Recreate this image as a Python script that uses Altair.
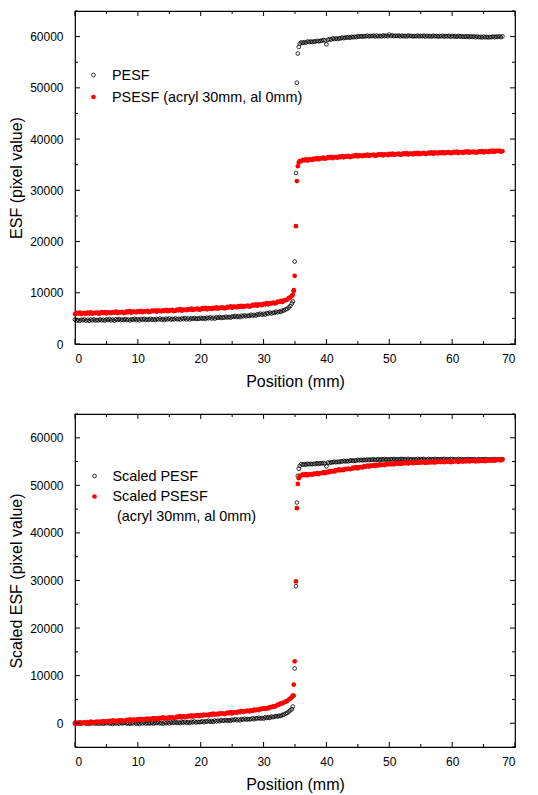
import altair as alt
import pandas as pd

FONT = "Liberation Sans"

# ---------------- sampling grid (mm): detector samples every 0.25 mm ----------------
PITCH = 0.25
LOW_START, HIGH_START = 0.0, 36.0
edge_pos = [34.65, 34.8, 34.95, 35.15, 35.3, 35.45, 35.6, 35.75]

# ---------------- top panel: PESF (black open circles) ----------------
pesf_low = [4760, 4580, 4685, 4530, 4740, 4640, 4805, 4570, 4720, 4520, 4765, 4640, 4800, 4590, 4695, 4630,
            4800, 4620, 4725, 4570, 4780, 4685, 4850, 4610, 4765, 4570, 4810, 4685, 4850, 4645, 4745, 4680,
            4855, 4680, 4780, 4625, 4840, 4745, 4905, 4670, 4825, 4630, 4870, 4745, 4910, 4705, 4805, 4740,
            4915, 4740, 4840, 4685, 4900, 4805, 4970, 4735, 4890, 4695, 4940, 4815, 4980, 4775, 4880, 4815,
            4990, 4815, 4920, 4770, 4985, 4890, 5060, 4825, 4980, 4790, 5035, 4910, 5080, 4880, 4990, 4930,
            5110, 4940, 5050, 4900, 5120, 5030, 5205, 4975, 5140, 4955, 5210, 5095, 5270, 5080, 5195, 5140,
            5330, 5170, 5290, 5150, 5380, 5300, 5480, 5260, 5430, 5250, 5515, 5405, 5590, 5405, 5535, 5490,
            5690, 5540, 5675, 5545, 5790, 5725, 5920, 5715, 5900, 5740, 6015, 5920, 6120, 5960, 6110, 6090,
            6310, 6190, 6355, 6260, 6530, 6555, 6760, 6850, 7140, 7400, 7900]
pesf_edge = [8300, 10300, 16100, 33400, 51000, 56700, 58000, 58600]
pesf_high = [58860, 58790, 58895, 58830, 59040, 58945, 59040, 58955, 59060, 59035, 59180, 59065, 59180, 59190, 59345, 59250,
             58500, 59390, 59495, 59430, 59640, 59545, 59640, 59555, 59660, 59650, 59805, 59700, 59830, 59805, 59920, 59785,
             59960, 59875, 59970, 59895, 60090, 59995, 60090, 60005, 60110, 60060, 60180, 60040, 60140, 60090, 60180, 60020,
             60180, 60070, 60140, 60040, 60220, 60100, 60180, 60070, 60400, 60110, 60230, 60080, 60170, 60120, 60200, 60040,
             60190, 60080, 60140, 60040, 60210, 60090, 60160, 60040, 60120, 60070, 60190, 60050, 60130, 60080, 60170, 60010,
             60160, 60050, 60120, 60020, 60180, 60060, 60130, 60020, 60100, 60050, 60160, 60020, 60110, 60060, 60150, 59980,
             60130, 60015, 60080, 59975, 60140, 60015, 60080, 59960, 60030, 59970, 60080, 59930, 60020, 59960, 60045, 59880,
             60020, 59895, 59950, 59835, 59990, 59870, 59945, 59840, 59930, 59890, 60020, 59890, 59990, 59950, 60050, 59900,
             60060]

# ---------------- top panel: PSESF (red filled dots) ----------------
psesf_low = [5860, 6080, 5935, 6125, 5840, 6050, 6010, 5895, 6115, 5970, 6170, 5920, 6085, 6045, 6150, 5920,
             5990, 6205, 6065, 6250, 5970, 6180, 6140, 6025, 6245, 6105, 6305, 6055, 6220, 6180, 6290, 6060,
             6130, 6350, 6210, 6400, 6120, 6330, 6290, 6180, 6400, 6260, 6465, 6215, 6390, 6350, 6460, 6235,
             6305, 6530, 6390, 6580, 6305, 6515, 6480, 6370, 6590, 6455, 6655, 6410, 6580, 6545, 6660, 6430,
             6505, 6730, 6595, 6790, 6510, 6725, 6690, 6585, 6815, 6680, 6890, 6645, 6820, 6790, 6905, 6685,
             6760, 6985, 6850, 7045, 6770, 6985, 6950, 6845, 7070, 6935, 7140, 6900, 7080, 7050, 7170, 6950,
             7030, 7260, 7130, 7330, 7060, 7280, 7255, 7155, 7390, 7260, 7470, 7235, 7415, 7390, 7510, 7305,
             7395, 7640, 7520, 7735, 7480, 7710, 7695, 7605, 7850, 7740, 7965, 7740, 7940, 7940, 8090, 7900,
             8010, 8280, 8195, 8440, 8210, 8510, 8560, 8645, 8960, 9100, 9400]
psesf_edge = [9600, 10500, 13300, 23000, 31800, 34700, 35400, 35700]
psesf_high = [35710, 35960, 35845, 36060, 35810, 36040, 36025, 35940, 36180, 36060, 36280, 36050, 36240, 36230, 36365, 36160,
              36260, 36490, 36355, 36550, 36280, 36500, 36470, 36370, 36600, 36470, 36680, 36440, 36620, 36590, 36710, 36490,
              36570, 36800, 36670, 36870, 36600, 36810, 36775, 36670, 36890, 36750, 36955, 36710, 36880, 36845, 36960, 36735,
              36810, 37030, 36895, 37090, 36810, 37020, 36985, 36880, 37100, 36960, 37160, 36910, 37080, 37040, 37150, 36920,
              36990, 37210, 37070, 37260, 36980, 37190, 37145, 37030, 37250, 37110, 37310, 37060, 37230, 37190, 37300, 37070,
              37140, 37360, 37220, 37410, 37130, 37340, 37300, 37190, 37410, 37270, 37470, 37220, 37390, 37350, 37460, 37230,
              37300, 37515, 37370, 37560, 37275, 37480, 37440, 37325, 37540, 37400, 37595, 37340, 37510, 37465, 37570, 37340,
              37405, 37620, 37480, 37665, 37380, 37595, 37560, 37455, 37680, 37545, 37750, 37505, 37680, 37650, 37765, 37540,
              37620]

# ---------------- bottom panel: Scaled PESF ----------------
spesf_low = [110, -70, 30, -130, 80, -20, 140, -100, 50, -150, 90, -40, 120, -90, 10, -60,
             -40, 90, -120, 60, -10, 130, -80, 20, -150, 100, -50, 70, -100, 140, -30, 40,
             110, -70, 30, -130, 80, -20, 140, -100, 50, -150, 95, -35, 130, -80, 25, -45,
             -20, 115, -90, 90, 25, 170, -35, 70, -95, 160, 15, 145, -20, 230, 70, 145,
             225, 55, 165, 15, 235, 145, 315, 90, 250, 60, 315, 195, 370, 170, 285, 225,
             260, 405, 210, 405, 350, 505, 310, 425, 270, 535, 405, 540, 390, 650, 500, 590,
             680, 520, 640, 500, 730, 650, 830, 610, 780, 600, 865, 755, 940, 750, 875, 825,
             870, 1020, 835, 1035, 990, 1155, 970, 1095, 950, 1230, 1110, 1260, 1120, 1405, 1280, 1395,
             1480, 1425, 1570, 1535, 1760, 1815, 2020, 2135, 2430, 2700, 2950]
spesf_edge = [3500, 5800, 11500, 28800, 46400, 52000, 53500, 54100]
spesf_high = [54460, 54360, 54445, 54355, 54540, 54435, 54525, 54430, 54530, 54500, 54640, 54520, 54630, 54605, 54720, 54585,
              54000, 54805, 54685, 54850, 54840, 54960, 54855, 54965, 54900, 55055, 55010, 55145, 55030, 55115, 55060, 55215,
              55240, 55155, 55250, 55175, 55370, 55265, 55350, 55255, 55350, 55310, 55445, 55315, 55420, 55375, 55475, 55320,
              55390, 55495, 55340, 55475, 55430, 55525, 55390, 55475, 55380, 55510, 55445, 55555, 55420, 55480, 55400, 55530,
              55530, 55420, 55490, 55390, 55560, 55440, 55510, 55400, 55480, 55430, 55550, 55410, 55500, 55450, 55540, 55380,
              55440, 55540, 55380, 55510, 55460, 55550, 55410, 55490, 55390, 55520, 55450, 55560, 55420, 55480, 55400, 55530,
              55530, 55420, 55485, 55385, 55555, 55435, 55500, 55390, 55470, 55420, 55535, 55395, 55485, 55435, 55520, 55360,
              55420, 55520, 55360, 55490, 55440, 55525, 55385, 55460, 55360, 55490, 55420, 55530, 55390, 55450, 55370, 55500,
              55500]

# ---------------- bottom panel: Scaled PSESF ----------------
spsesf_low = [-90, 135, 5, 200, -70, 145, 115, 10, 240, 105, 315, 70, 250, 215, 335, 110,
              350, 197, 445, 272, 370, 230, 480, 380, 580, 370, 480, 370, 620, 510, 610, 440,
              500, 730, 600, 800, 530, 750, 720, 620, 850, 720, 930, 690, 870, 840, 960, 740,
              980, 830, 1080, 910, 1010, 870, 1120, 1020, 1220, 1010, 1120, 1010, 1260, 1155, 1260, 1095,
              1160, 1395, 1270, 1475, 1210, 1435, 1410, 1315, 1550, 1425, 1640, 1405, 1590, 1565, 1690, 1475,
              1720, 1575, 1835, 1670, 1780, 1645, 1905, 1810, 2020, 1815, 1935, 1830, 2090, 1985, 2095, 1930,
              2000, 2235, 2115, 2320, 2060, 2295, 2285, 2200, 2450, 2335, 2565, 2340, 2540, 2525, 2665, 2460,
              2720, 2600, 2880, 2740, 2870, 2760, 3040, 2970, 3200, 3030, 3185, 3115, 3410, 3380, 3560, 3470,
              3620, 3915, 3920, 4185, 4140, 4390, 4520, 4650, 4960, 5150, 5450]
spsesf_edge = [5800, 8100, 13000, 29800, 45200, 50300, 51500, 52000]
spsesf_high = [52060, 52295, 52170, 52375, 52110, 52340, 52325, 52235, 52480, 52370, 52600, 52380, 52580, 52585, 52740, 52555,
               52830, 52720, 53010, 52880, 53020, 52910, 53190, 53120, 53350, 53165, 53300, 53215, 53490, 53405, 53530, 53385,
               53470, 53720, 53610, 53830, 53580, 53835, 53845, 53780, 54050, 53935, 54165, 53940, 54140, 54125, 54260, 54055,
               54310, 54170, 54435, 54275, 54390, 54255, 54515, 54420, 54630, 54420, 54535, 54425, 54680, 54570, 54670, 54500,
               54560, 54785, 54655, 54850, 54580, 54795, 54760, 54655, 54880, 54745, 54950, 54705, 54880, 54840, 54950, 54720,
               54950, 54790, 55030, 54850, 54940, 54790, 55030, 54920, 55110, 54885, 54985, 54860, 55100, 54975, 55065, 54880,
               54930, 55150, 55010, 55200, 54920, 55130, 55090, 54980, 55200, 55060, 55260, 55010, 55180, 55135, 55245, 55010,
               55240, 55075, 55315, 55130, 55220, 55070, 55315, 55205, 55400, 55185, 55295, 55180, 55430, 55325, 55430, 55265,
               55420]

# ---------------- axes / labels ----------------
x_major = [0, 10, 20, 30, 40, 50, 60, 70]
x_minor = [5, 15, 25, 35, 45, 55, 65]
y_major = [0, 10000, 20000, 30000, 40000, 50000, 60000]
y_minor = [5000, 15000, 25000, 35000, 45000, 55000, 65000]
y_minor_bottom = [-5000, 5000, 15000, 25000, 35000, 45000, 55000, 65000]

top_labels = ["PESF", "PSESF (acryl 30mm, al 0mm)"]
bottom_labels = ["Scaled PESF", "Scaled PSESF", "(acryl 30mm, al 0mm)"]

W, H = 440, 333
MAJ, MIN = 5, 3
BLACK_SIZE, RED_SIZE = 14, 22


def series_df(low, edge, high):
    low_x = [round(LOW_START + PITCH * i, 2) for i in range(len(low))]
    high_x = [round(HIGH_START + PITCH * i, 2) for i in range(len(high))]
    xs = low_x + edge_pos + high_x
    ys = low + edge + high
    assert len(xs) == len(ys)
    return pd.DataFrame({"x": xs, "y": ys})


def panel(black, red, y_domain, y_title, y_minor_vals, legend):
    xs = alt.Scale(domain=[0, 70], nice=False, zero=False)
    ys = alt.Scale(domain=y_domain, nice=False, zero=False)
    xax = alt.Axis(values=x_major, title="Position (mm)", format="d")
    yax = alt.Axis(values=y_major, title=y_title, format="d")

    layers = []
    layers.append(
        alt.Chart(black).mark_point(shape="circle", filled=False, stroke="black",
                                    strokeWidth=0.8, size=BLACK_SIZE, opacity=1)
        .encode(x=alt.X("x:Q", scale=xs, axis=xax), y=alt.Y("y:Q", scale=ys, axis=yax))
    )
    layers.append(
        alt.Chart(red).mark_circle(color="#ff0000", size=RED_SIZE, opacity=1)
        .encode(x=alt.X("x:Q", scale=xs, axis=xax), y=alt.Y("y:Q", scale=ys, axis=yax))
    )

    # inward ticks on all four sides
    for vals, L in [(x_major, MAJ), (x_minor, MIN)]:
        d = pd.DataFrame({"x": vals})
        base = alt.Chart(d).mark_rule(color="black", strokeWidth=1)
        xenc = alt.X("x:Q", scale=xs, axis=xax)
        layers.append(base.encode(x=xenc, y=alt.value(H), y2=alt.value(H - L)))
        layers.append(base.encode(x=xenc, y=alt.value(0), y2=alt.value(L)))
    for vals, L in [(y_major, MAJ), (y_minor_vals, MIN)]:
        d = pd.DataFrame({"y": vals})
        base = alt.Chart(d).mark_rule(color="black", strokeWidth=1)
        yenc = alt.Y("y:Q", scale=ys, axis=yax)
        layers.append(base.encode(y=yenc, x=alt.value(0), x2=alt.value(L)))
        layers.append(base.encode(y=yenc, x=alt.value(W), x2=alt.value(W - L)))

    one = pd.DataFrame({"k": [0]})
    for kind, sx, sy, tx, ty, label in legend:
        if kind == "black":
            layers.append(alt.Chart(one).mark_point(shape="circle", filled=False, stroke="black",
                                                    strokeWidth=0.8, size=BLACK_SIZE, opacity=1)
                          .encode(x=alt.value(sx), y=alt.value(sy)))
        elif kind == "red":
            layers.append(alt.Chart(one).mark_circle(color="#ff0000", size=RED_SIZE, opacity=1)
                          .encode(x=alt.value(sx), y=alt.value(sy)))
        layers.append(alt.Chart(one).mark_text(align="left", baseline="middle", font=FONT,
                                               fontSize=14.4, color="black")
                      .encode(x=alt.value(tx), y=alt.value(ty), text=alt.value(label)))

    return alt.layer(*layers).properties(width=W, height=H)


top = panel(series_df(pesf_low, pesf_edge, pesf_high),
            series_df(psesf_low, psesf_edge, psesf_high),
            [0, 65000], "ESF (pixel value)", y_minor,
            [("black", 18.5, 64, 37, 65, top_labels[0]),
             ("red", 18.5, 86, 37, 87, top_labels[1])])

bottom = panel(series_df(spesf_low, spesf_edge, spesf_high),
               series_df(spsesf_low, spsesf_edge, spsesf_high),
               [-5000, 65000], "Scaled ESF (pixel value)", y_minor_bottom,
               [("black", 19.5, 62, 37.5, 62.5, bottom_labels[0]),
                ("red", 19.5, 82.5, 37.5, 83, bottom_labels[1]),
                ("none", 0, 0, 42, 103, bottom_labels[2])])

chart = (
    alt.vconcat(top, bottom, spacing=70, bounds="flush")
    .properties(padding={"left": 0, "top": 1, "right": 5, "bottom": 0})
    .configure_view(stroke="black", strokeWidth=1.2)
    .configure_axis(labelFont=FONT, titleFont=FONT, labelFontSize=12, titleFontSize=16,
                    titleFontWeight="normal", labelColor="black", titleColor="black",
                    grid=False, ticks=False, domain=False)
    .configure_axisX(labelPadding=9, titlePadding=9)
    .configure_axisY(labelPadding=12, titlePadding=5)
)

chart.save("out.html", embed_options={"renderer": "svg", "actions": False})
